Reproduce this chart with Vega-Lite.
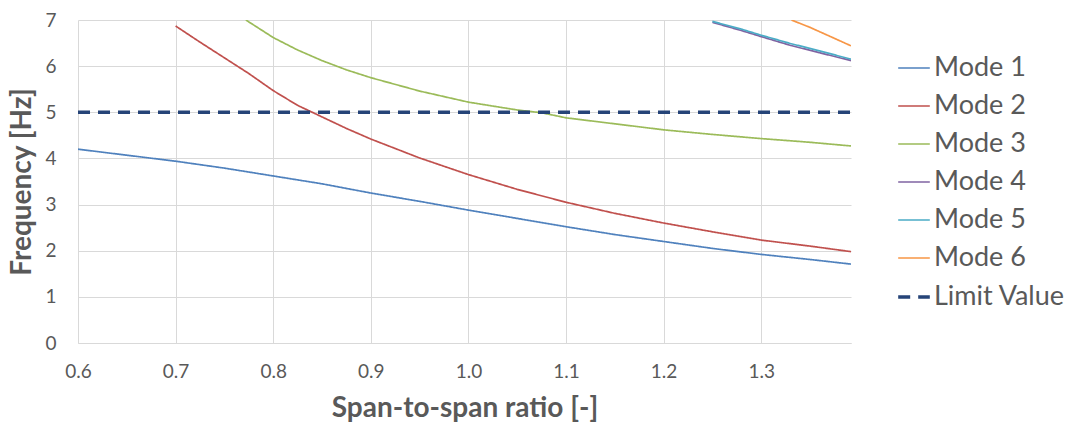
{
  "$schema": "https://vega.github.io/schema/vega-lite/v6.json",
  "width": 773,
  "height": 323,
  "autosize": {"type": "none"},
  "padding": {"left": 78, "top": 20, "right": 227, "bottom": 80},
  "background": "white",
  "config": {
    "view": {"stroke": null},
    "font": "Lato",
    "axis": {
      "labelColor": "#595959",
      "titleColor": "#595959",
      "labelFont": "Lato",
      "titleFont": "Lato",
      "gridColor": "#D9D9D9",
      "domainColor": "#D9D9D9",
      "ticks": false
    }
  },
  "data": {
    "values": [
      {"series": "Mode 1", "x": 0.60, "y": 4.20},
      {"series": "Mode 1", "x": 0.65, "y": 4.07},
      {"series": "Mode 1", "x": 0.70, "y": 3.94},
      {"series": "Mode 1", "x": 0.75, "y": 3.79},
      {"series": "Mode 1", "x": 0.80, "y": 3.62},
      {"series": "Mode 1", "x": 0.85, "y": 3.45},
      {"series": "Mode 1", "x": 0.90, "y": 3.25},
      {"series": "Mode 1", "x": 0.95, "y": 3.07},
      {"series": "Mode 1", "x": 1.00, "y": 2.88},
      {"series": "Mode 1", "x": 1.05, "y": 2.70},
      {"series": "Mode 1", "x": 1.10, "y": 2.52},
      {"series": "Mode 1", "x": 1.15, "y": 2.35},
      {"series": "Mode 1", "x": 1.20, "y": 2.20},
      {"series": "Mode 1", "x": 1.25, "y": 2.05},
      {"series": "Mode 1", "x": 1.30, "y": 1.92},
      {"series": "Mode 1", "x": 1.35, "y": 1.81},
      {"series": "Mode 1", "x": 1.392, "y": 1.71},
      {"series": "Mode 2", "x": 0.70, "y": 6.87},
      {"series": "Mode 2", "x": 0.725, "y": 6.52},
      {"series": "Mode 2", "x": 0.75, "y": 6.18},
      {"series": "Mode 2", "x": 0.775, "y": 5.84},
      {"series": "Mode 2", "x": 0.80, "y": 5.47},
      {"series": "Mode 2", "x": 0.825, "y": 5.15},
      {"series": "Mode 2", "x": 0.85, "y": 4.90},
      {"series": "Mode 2", "x": 0.875, "y": 4.65},
      {"series": "Mode 2", "x": 0.90, "y": 4.42},
      {"series": "Mode 2", "x": 0.95, "y": 4.01},
      {"series": "Mode 2", "x": 1.00, "y": 3.65},
      {"series": "Mode 2", "x": 1.05, "y": 3.33},
      {"series": "Mode 2", "x": 1.10, "y": 3.05},
      {"series": "Mode 2", "x": 1.15, "y": 2.81},
      {"series": "Mode 2", "x": 1.20, "y": 2.60},
      {"series": "Mode 2", "x": 1.25, "y": 2.41},
      {"series": "Mode 2", "x": 1.30, "y": 2.23},
      {"series": "Mode 2", "x": 1.35, "y": 2.10},
      {"series": "Mode 2", "x": 1.392, "y": 1.98},
      {"series": "Mode 3", "x": 0.772, "y": 7.0},
      {"series": "Mode 3", "x": 0.80, "y": 6.62},
      {"series": "Mode 3", "x": 0.825, "y": 6.35},
      {"series": "Mode 3", "x": 0.85, "y": 6.12},
      {"series": "Mode 3", "x": 0.875, "y": 5.92},
      {"series": "Mode 3", "x": 0.90, "y": 5.75},
      {"series": "Mode 3", "x": 0.95, "y": 5.46},
      {"series": "Mode 3", "x": 1.00, "y": 5.22},
      {"series": "Mode 3", "x": 1.05, "y": 5.05},
      {"series": "Mode 3", "x": 1.075, "y": 4.99},
      {"series": "Mode 3", "x": 1.10, "y": 4.88},
      {"series": "Mode 3", "x": 1.15, "y": 4.75},
      {"series": "Mode 3", "x": 1.20, "y": 4.62},
      {"series": "Mode 3", "x": 1.25, "y": 4.52},
      {"series": "Mode 3", "x": 1.30, "y": 4.43},
      {"series": "Mode 3", "x": 1.35, "y": 4.35},
      {"series": "Mode 3", "x": 1.392, "y": 4.27},
      {"series": "Mode 4", "x": 1.25, "y": 6.95},
      {"series": "Mode 4", "x": 1.28, "y": 6.77},
      {"series": "Mode 4", "x": 1.30, "y": 6.64},
      {"series": "Mode 4", "x": 1.33, "y": 6.45},
      {"series": "Mode 4", "x": 1.36, "y": 6.29},
      {"series": "Mode 4", "x": 1.392, "y": 6.12},
      {"series": "Mode 5", "x": 1.25, "y": 6.97},
      {"series": "Mode 5", "x": 1.28, "y": 6.80},
      {"series": "Mode 5", "x": 1.30, "y": 6.67},
      {"series": "Mode 5", "x": 1.33, "y": 6.49},
      {"series": "Mode 5", "x": 1.36, "y": 6.33},
      {"series": "Mode 5", "x": 1.392, "y": 6.15},
      {"series": "Mode 6", "x": 1.331, "y": 7.0},
      {"series": "Mode 6", "x": 1.35, "y": 6.84},
      {"series": "Mode 6", "x": 1.37, "y": 6.65},
      {"series": "Mode 6", "x": 1.392, "y": 6.44},
      {"series": "Limit Value", "x": 0.60, "y": 5.0},
      {"series": "Limit Value", "x": 1.392, "y": 5.0}
    ]
  },
  "mark": {"type": "line", "clip": true, "strokeCap": "butt"},
  "encoding": {
    "x": {
      "field": "x",
      "type": "quantitative",
      "scale": {"domain": [0.6, 1.392], "nice": false, "zero": false},
      "axis": {
        "values": [0.6, 0.7, 0.8, 0.9, 1.0, 1.1, 1.2, 1.3],
        "format": ".1f",
        "labelFontSize": 19,
        "labelPadding": 19,
        "labelFlush": false,
        "title": "Span-to-span ratio [-]",
        "titleFontSize": 28,
        "titleFontWeight": "bold",
        "titlePadding": 13
      }
    },
    "y": {
      "field": "y",
      "type": "quantitative",
      "scale": {"domain": [0, 7], "nice": false},
      "axis": {
        "values": [0, 1, 2, 3, 4, 5, 6, 7],
        "labelFontSize": 19,
        "labelPadding": 22,
        "labelFlush": false,
        "domain": false,
        "title": "Frequency [Hz]",
        "titleFontSize": 28,
        "titleFontWeight": "bold",
        "titlePadding": 8
      }
    },
    "color": {
      "field": "series",
      "type": "nominal",
      "scale": {
        "domain": ["Mode 1", "Mode 2", "Mode 3", "Mode 4", "Mode 5", "Mode 6", "Limit Value"],
        "range": ["#4F81BD", "#C0504D", "#9BBB59", "#8064A2", "#4BACC6", "#F79646", "#264478"]
      },
      "legend": {
        "title": null,
        "orient": "none",
        "legendX": 818,
        "legendY": 31,
        "symbolType": "stroke",
        "symbolSize": 1000,
        "labelFontSize": 27,
        "labelColor": "#595959",
        "labelFont": "Lato",
        "rowPadding": 8,
        "labelOffset": 2
      }
    },
    "strokeDash": {
      "field": "series",
      "type": "nominal",
      "scale": {
        "domain": ["Mode 1", "Mode 2", "Mode 3", "Mode 4", "Mode 5", "Mode 6", "Limit Value"],
        "range": [[1, 0], [1, 0], [1, 0], [1, 0], [1, 0], [1, 0], [12, 8]]
      },
      "legend": null
    },
    "strokeWidth": {
      "field": "series",
      "type": "nominal",
      "scale": {
        "type": "ordinal",
        "domain": ["Mode 1", "Mode 2", "Mode 3", "Mode 4", "Mode 5", "Mode 6", "Limit Value"],
        "range": [1.7, 1.7, 1.7, 1.7, 1.7, 1.7, 3.5]
      },
      "legend": null
    }
  }
}
